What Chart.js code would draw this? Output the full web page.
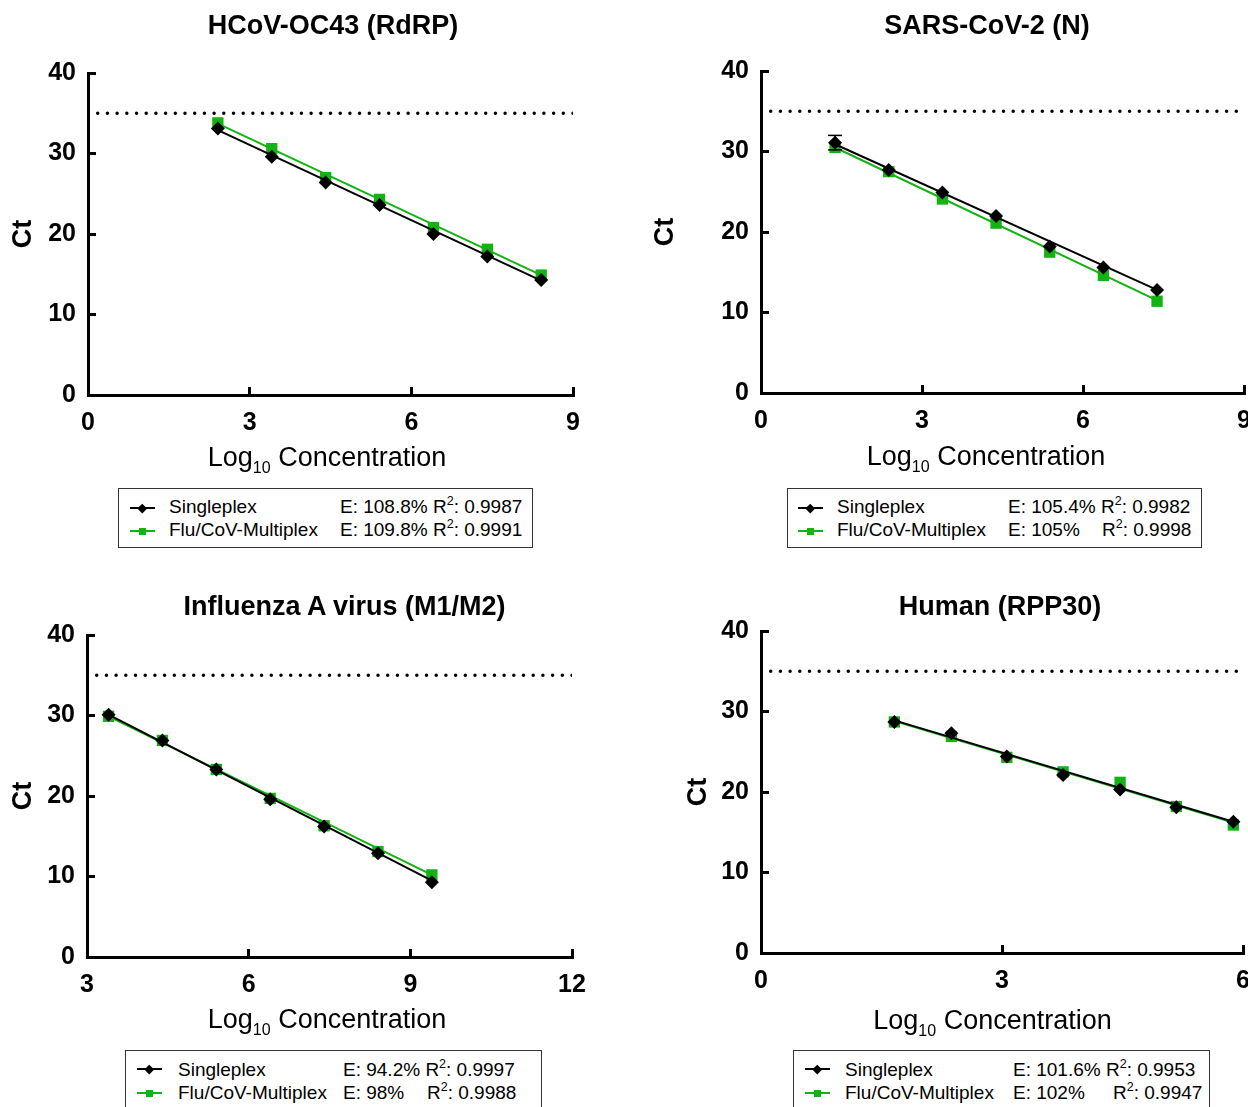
<!DOCTYPE html>
<html>
<head>
<meta charset="utf-8">
<script src="https://cdn.jsdelivr.net/npm/chart.js@4.4.0/dist/chart.umd.min.js"></script>
<style>
    body {
        margin: 0;
        width: 1248px;
        height: 1107px;
        overflow: hidden;
        position: relative;
        background: #fff;
        color: #000;
        font-family: "Liberation Sans", Arial, sans-serif;
    }
    canvas { position: absolute; }
    .txt { position: absolute; white-space: nowrap; line-height: 1; }
    .title { font-size: 27px; font-weight: bold; transform: translateX(-50%); }
    .xtitle { font-size: 27px; transform: translateX(-50%); }
    .xtitle span { font-size: 16px; position: relative; top: 7px; }
    .leg { font-size: 19px; }
    .leg span { font-size: 12.5px; position: relative; top: -8px; }
    .legbox { position: absolute; border: 1.5px solid #333; box-sizing: border-box; }
    .mline { position: absolute; height: 1.5px; }
    .mark { position: absolute; }
</style>
</head>
<body>
<script>
// Shared values
const cutoffCt = 35;
const yTicks = [0, 40, 10];
const seriesNames = ['Singleplex', 'Flu/CoV-Multiplex'];

// HCoV-OC43 (RdRP)
const oc43X = [2.41, 3.41, 4.41, 5.41, 6.41, 7.41, 8.41];
const oc43Single = [33.1, 29.6, 26.4, 23.6, 20.0, 17.2, 14.3];
const oc43Multi = [33.8, 30.6, 27.0, 24.3, 20.8, 18.1, 14.9];
const oc43SingleFit = [32.9, 14.2];
const oc43MultiFit = [33.7, 14.9];
const oc43Eff = ['108.8%', '109.8%'];
const oc43R2 = ['0.9987', '0.9991'];

// SARS-CoV-2 (N)
const sarsX = [1.38, 2.38, 3.38, 4.38, 5.38, 6.38, 7.38];
const sarsSingle = [31.1, 27.7, 24.9, 22.0, 18.2, 15.6, 12.8];
const sarsMulti = [30.5, 27.5, 24.1, 21.1, 17.5, 14.6, 11.4];
const sarsSingleFit = [30.9, 12.8];
const sarsMultiFit = [30.5, 11.5];
const sarsSingleErr = [30.2, 32.0]; // SD bar on the first dilution
const sarsEff = ['105.4%', '105%'];
const sarsR2 = ['0.9982', '0.9998'];

// Influenza A virus (M1/M2)
const fluX = [3.4, 4.4, 5.4, 6.4, 7.4, 8.4, 9.4];
const fluSingle = [30.1, 26.9, 23.3, 19.6, 16.2, 12.9, 9.3];
const fluMulti = [29.9, 26.9, 23.3, 19.7, 16.3, 13.1, 10.2];
const fluSingleFit = [30.1, 9.5];
const fluMultiFit = [29.9, 10.2];
const fluEff = ['94.2%', '98%'];
const fluR2 = ['0.9997', '0.9988'];

// Human (RPP30)
const rppX = [1.66, 2.37, 3.06, 3.76, 4.47, 5.17, 5.88];
const rppSingle = [28.7, 27.3, 24.4, 22.1, 20.3, 18.1, 16.3];
const rppMulti = [28.7, 26.9, 24.3, 22.5, 21.2, 18.2, 15.9];
const rppSingleFit = [28.9, 16.3];
const rppMultiFit = [28.8, 16.2];
const rppEff = ['101.6%', '102%'];
const rppR2 = ['0.9953', '0.9947'];

const GREEN = '#12b312';
const FONT = "'Liberation Sans', Arial, sans-serif";
const PAD_TOP = 40, PAD_RIGHT = 35, X_AXIS_H = 55;

// rX null -> R² follows the E text after one space
const panels = [
    {
        title: 'HCoV-OC43 (RdRP)', titlePos: [333, 34.5], xTitlePos: [327, 467],
        xAxis: [0, 9, 3], x: oc43X, single: oc43Single, multi: oc43Multi,
        singleFit: oc43SingleFit, multiFit: oc43MultiFit, eff: oc43Eff, r2: oc43R2,
        canvasLeft: 0, plot: { l: 88, r: 573, t: 73, b: 395 },
        legend: { l: 118, t: 488, w: 415, h: 60, lineX: 130, lineY: [508, 531], base: [513.5, 536], labelX: 169, eX: 340, rX: [null, null] }
    },
    {
        title: 'SARS-CoV-2 (N)', titlePos: [987, 35], xTitlePos: [986, 466],
        xAxis: [0, 9, 3], x: sarsX, single: sarsSingle, multi: sarsMulti,
        singleFit: sarsSingleFit, multiFit: sarsMultiFit, err: sarsSingleErr, eff: sarsEff, r2: sarsR2,
        canvasLeft: 642, plot: { l: 761, r: 1244, t: 71, b: 393 },
        legend: { l: 787, t: 488, w: 415, h: 60, lineX: 798, lineY: [508, 531], base: [513.5, 536.5], labelX: 837, eX: 1008, rX: [null, 1102] }
    },
    {
        title: 'Influenza A virus (M1/M2)', titlePos: [344.5, 616], xTitlePos: [327, 1029],
        xAxis: [3, 12, 3], x: fluX, single: fluSingle, multi: fluMulti,
        singleFit: fluSingleFit, multiFit: fluMultiFit, eff: fluEff, r2: fluR2,
        canvasLeft: 0, plot: { l: 87, r: 572, t: 635, b: 957 },
        legend: { l: 125, t: 1050, w: 417, h: 70, lineX: 137, lineY: [1069, 1093], base: [1076, 1099.5], labelX: 178, eX: 343, rX: [null, 427] }
    },
    {
        title: 'Human (RPP30)', titlePos: [1000, 616], xTitlePos: [992.5, 1030],
        xAxis: [0, 6, 3], x: rppX, single: rppSingle, multi: rppMulti,
        singleFit: rppSingleFit, multiFit: rppMultiFit, eff: rppEff, r2: rppR2,
        canvasLeft: 675, plot: { l: 761, r: 1243, t: 631, b: 953 },
        legend: { l: 793, t: 1050, w: 417, h: 70, lineX: 805, lineY: [1069, 1093], base: [1076.5, 1099.5], labelX: 845, eX: 1013, rX: [null, 1113] }
    }
];

function addText(cls, html, x, baseline, size) {
    const el = document.createElement('div');
    el.className = 'txt ' + cls;
    el.innerHTML = html;
    el.style.left = x + 'px';
    el.style.top = (baseline - 0.8465 * size) + 'px';
    document.body.appendChild(el);
    return el;
}

function addLegend(p) {
    const g = p.legend;
    const box = document.createElement('div');
    box.className = 'legbox';
    box.style.left = g.l + 'px';
    box.style.top = g.t + 'px';
    box.style.width = g.w + 'px';
    box.style.height = g.h + 'px';
    document.body.appendChild(box);

    seriesNames.forEach((name, i) => {
        const color = i === 0 ? '#000' : GREEN;
        const line = document.createElement('div');
        line.className = 'mline';
        line.style.left = g.lineX + 'px';
        line.style.top = (g.lineY[i] - 0.75) + 'px';
        line.style.width = '25px';
        line.style.background = color;
        document.body.appendChild(line);

        const mark = document.createElement('div');
        mark.className = 'mark';
        mark.style.background = color;
        if (i === 0) {
            mark.style.width = '6.5px';
            mark.style.height = '6.5px';
            mark.style.left = (g.lineX + 12.5 - 3.25) + 'px';
            mark.style.top = (g.lineY[i] - 3.25) + 'px';
            mark.style.transform = 'rotate(45deg)';
        } else {
            mark.style.width = '7px';
            mark.style.height = '7px';
            mark.style.left = (g.lineX + 12.5 - 3.5) + 'px';
            mark.style.top = (g.lineY[i] - 3.5) + 'px';
        }
        document.body.appendChild(mark);

        addText('leg', name, g.labelX, g.base[i], 19);
        const rText = 'R<span>2</span>: ' + p.r2[i];
        if (g.rX[i] === null) {
            addText('leg', 'E: ' + p.eff[i] + ' ' + rText, g.eX, g.base[i], 19);
        } else {
            addText('leg', 'E: ' + p.eff[i], g.eX, g.base[i], 19);
            addText('leg', rText, g.rX[i], g.base[i], 19);
        }
    });
}

function pts(xs, ys) {
    return xs.map((x, i) => ({ x: x, y: ys[i] }));
}

function fitEnds(xs, fit) {
    return [{ x: xs[0], y: fit[0] }, { x: xs[xs.length - 1], y: fit[1] }];
}

function buildChart(p) {
    const a = p.plot;
    const left = p.canvasLeft;
    const top = a.t - PAD_TOP;
    const w = a.r + PAD_RIGHT - left;
    const h = a.b + X_AXIS_H - top;

    const canvas = document.createElement('canvas');
    canvas.width = w;
    canvas.height = h;
    canvas.style.left = left + 'px';
    canvas.style.top = top + 'px';
    canvas.style.width = w + 'px';
    canvas.style.height = h + 'px';
    document.body.appendChild(canvas);

    const yWidth = a.l - left;

    // first entries are drawn on top
    const datasets = [
        {
            data: pts(p.x, p.single),
            pointStyle: 'rectRot', pointRadius: 7,
            backgroundColor: '#000', borderColor: '#000', borderWidth: 0,
            showLine: false
        }
    ];
    if (p.err) {
        datasets.push({
            data: [{ x: p.x[0], y: p.err[0] }, { x: p.x[0], y: p.err[1] }],
            showLine: true, borderColor: '#000', borderWidth: 1.5,
            pointStyle: 'line', pointRadius: 7, pointBorderWidth: 1.5, pointBorderColor: '#000'
        });
    }
    datasets.push(
        {
            data: fitEnds(p.x, p.singleFit),
            showLine: true, borderColor: '#000', borderWidth: 2, pointRadius: 0
        },
        {
            data: pts(p.x, p.multi),
            pointStyle: 'rect', pointRadius: 8,
            backgroundColor: GREEN, borderColor: GREEN, borderWidth: 0,
            showLine: false
        },
        {
            data: fitEnds(p.x, p.multiFit),
            showLine: true, borderColor: GREEN, borderWidth: 2, pointRadius: 0
        },
        {
            data: [{ x: p.xAxis[0], y: cutoffCt }, { x: p.xAxis[1], y: cutoffCt }],
            showLine: true, borderColor: '#000', borderWidth: 3.5,
            borderDash: [0, 9.7], borderCapStyle: 'round', pointRadius: 0
        }
    );

    new Chart(canvas.getContext('2d'), {
        type: 'scatter',
        data: { datasets: datasets },
        options: {
            responsive: false,
            animation: false,
            layout: {
                padding: { left: 0, top: PAD_TOP, right: PAD_RIGHT, bottom: 0 }
            },
            plugins: {
                legend: { display: false },
                tooltip: { enabled: false }
            },
            scales: {
                x: {
                    type: 'linear',
                    min: p.xAxis[0],
                    max: p.xAxis[1],
                    ticks: {
                        stepSize: p.xAxis[2],
                        color: '#000',
                        padding: 21,
                        font: { family: FONT, size: 25, weight: 'bold' }
                    },
                    grid: { drawOnChartArea: false, drawTicks: true, tickLength: -8, tickWidth: 3, tickColor: '#000' },
                    border: { display: true, color: '#000', width: 3 },
                    afterFit: (scale) => { scale.height = X_AXIS_H; }
                },
                y: {
                    min: yTicks[0],
                    max: yTicks[1],
                    ticks: {
                        stepSize: yTicks[2],
                        color: '#000',
                        padding: 20,
                        font: { family: FONT, size: 25, weight: 'bold' }
                    },
                    title: {
                        display: true,
                        text: 'Ct',
                        color: '#000',
                        padding: { top: 7.8, bottom: 0 },
                        font: { family: FONT, size: 27, weight: 'bold' }
                    },
                    grid: { drawOnChartArea: false, drawTicks: true, tickLength: -8, tickWidth: 3, tickColor: '#000' },
                    border: { display: true, color: '#000', width: 3 },
                    afterFit: (scale) => { scale.width = yWidth; }
                }
            }
        }
    });
}

panels.forEach(p => {
    buildChart(p);
    addText('title', p.title, p.titlePos[0], p.titlePos[1], 27);
    addText('xtitle', 'Log<span>10</span> Concentration', p.xTitlePos[0], p.xTitlePos[1], 27);
    addLegend(p);
});
</script>
</body>
</html>
